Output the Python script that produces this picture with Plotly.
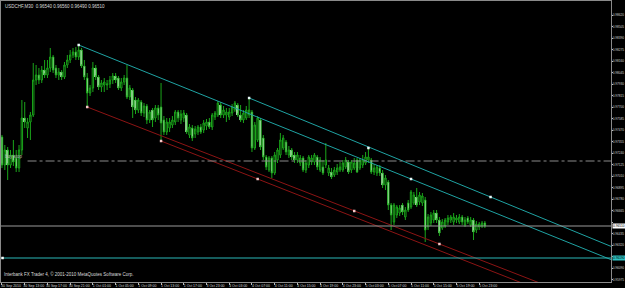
import plotly.graph_objects as go

symbol = "USDCHF,M30"

opens = [0.9740,0.9712,0.9727,0.9712,0.9722,0.9719,0.9709,0.9727,0.9759,0.9749,
0.9755,0.9762,0.9797,0.9802,0.9797,0.9807,0.9802,0.9809,0.9820,0.9809,
0.9802,0.9805,0.9800,0.9812,0.9817,0.9822,0.9825,0.9820,0.9827,0.9811,
0.9799,0.9784,0.9789,0.9809,0.9800,0.9790,0.9792,0.9792,0.9793,0.9797,
0.9801,0.9799,0.9789,0.9795,0.9799,0.9780,0.9787,0.9777,0.9767,0.9775,
0.9764,0.9771,0.9757,0.9767,0.9759,0.9769,0.9770,0.9757,0.9745,0.9749,
0.9752,0.9755,0.9765,0.9757,0.9759,0.9762,0.9742,0.9749,0.9743,0.9745,
0.9750,0.9747,0.9751,0.9755,0.9750,0.9760,0.9762,0.9772,0.9762,0.9762,
0.9760,0.9764,0.9767,0.9772,0.9762,0.9757,0.9759,0.9762,0.9765,0.9729,
0.9737,0.9757,0.9739,0.9720,0.9707,0.9719,0.9704,0.9717,0.9722,0.9729,
0.9735,0.9722,0.9727,0.9722,0.9717,0.9714,0.9719,0.9707,0.9712,0.9715,
0.9715,0.9720,0.9707,0.9710,0.9712,0.9704,0.9705,0.9702,0.9705,0.9707,
0.9707,0.9710,0.9715,0.9707,0.9709,0.9717,0.9709,0.9712,0.9714,0.9717,
0.9717,0.9705,0.9704,0.9709,0.9704,0.9692,0.9695,0.9672,0.9655,0.9662,
0.9664,0.9672,0.9660,0.9674,0.9670,0.9674,0.9680,0.9675,0.9674,0.9677,
0.9650,0.9654,0.9657,0.9664,0.9657,0.9649,0.9651,0.9655,0.9657,0.9655,
0.9657,0.9655,0.9660,0.9652,0.9659,0.9652,0.9657,0.9647,0.9650,0.9651,
0.9654]

highs = [0.9742,0.9732,0.9730,0.9727,0.9737,0.9727,0.9732,0.9777,0.9775,0.9759,
0.9765,0.9814,0.9812,0.9809,0.9811,0.9817,0.9817,0.9829,0.9822,0.9812,
0.9809,0.9807,0.9815,0.9822,0.9827,0.9829,0.9830,0.9832,0.9829,0.9817,
0.9804,0.9792,0.9815,0.9812,0.9802,0.9797,0.9799,0.9797,0.9801,0.9804,
0.9804,0.9801,0.9799,0.9802,0.9812,0.9792,0.9789,0.9780,0.9779,0.9777,
0.9774,0.9773,0.9767,0.9769,0.9772,0.9772,0.9794,0.9761,0.9759,0.9759,
0.9761,0.9767,0.9767,0.9767,0.9767,0.9764,0.9753,0.9752,0.9751,0.9752,
0.9753,0.9757,0.9758,0.9759,0.9764,0.9766,0.9776,0.9775,0.9771,0.9769,
0.9769,0.9773,0.9776,0.9774,0.9772,0.9767,0.9771,0.9779,0.9767,0.9755,
0.9761,0.9759,0.9742,0.9722,0.9721,0.9721,0.9725,0.9729,0.9744,0.9742,
0.9737,0.9731,0.9729,0.9725,0.9725,0.9722,0.9721,0.9717,0.9722,0.9722,
0.9724,0.9722,0.9720,0.9717,0.9734,0.9712,0.9709,0.9710,0.9713,0.9715,
0.9717,0.9720,0.9717,0.9717,0.9719,0.9719,0.9719,0.9722,0.9725,0.9729,
0.9719,0.9713,0.9712,0.9712,0.9707,0.9702,0.9697,0.9674,0.9674,0.9672,
0.9672,0.9674,0.9670,0.9677,0.9687,0.9685,0.9689,0.9685,0.9684,0.9680,
0.9663,0.9665,0.9667,0.9667,0.9660,0.9658,0.9659,0.9662,0.9662,0.9664,
0.9662,0.9663,0.9662,0.9660,0.9661,0.9660,0.9659,0.9656,0.9655,0.9656,
0.9656]

lows = [0.9709,0.9707,0.9697,0.9709,0.9711,0.9705,0.9705,0.9722,0.9749,0.9739,
0.9737,0.9760,0.9792,0.9793,0.9794,0.9799,0.9799,0.9805,0.9804,0.9799,
0.9797,0.9797,0.9798,0.9809,0.9814,0.9819,0.9817,0.9817,0.9809,0.9797,
0.9770,0.9781,0.9785,0.9797,0.9787,0.9785,0.9785,0.9787,0.9789,0.9793,
0.9794,0.9787,0.9786,0.9792,0.9778,0.9777,0.9759,0.9763,0.9764,0.9761,
0.9760,0.9753,0.9754,0.9750,0.9755,0.9757,0.9737,0.9742,0.9742,0.9745,
0.9749,0.9752,0.9755,0.9753,0.9755,0.9743,0.9739,0.9736,0.9739,0.9742,
0.9743,0.9744,0.9747,0.9748,0.9747,0.9757,0.9760,0.9759,0.9759,0.9755,
0.9757,0.9761,0.9765,0.9760,0.9755,0.9754,0.9757,0.9759,0.9725,0.9727,
0.9735,0.9727,0.9717,0.9707,0.9705,0.9699,0.9702,0.9714,0.9719,0.9727,
0.9722,0.9719,0.9717,0.9714,0.9714,0.9711,0.9705,0.9704,0.9709,0.9712,
0.9712,0.9707,0.9705,0.9702,0.9709,0.9701,0.9698,0.9700,0.9702,0.9705,
0.9705,0.9708,0.9703,0.9704,0.9707,0.9704,0.9707,0.9709,0.9712,0.9714,
0.9703,0.9702,0.9701,0.9701,0.9689,0.9687,0.9667,0.9647,0.9652,0.9659,
0.9661,0.9662,0.9657,0.9665,0.9668,0.9672,0.9670,0.9672,0.9671,0.9635,
0.9647,0.9651,0.9654,0.9654,0.9641,0.9647,0.9649,0.9652,0.9654,0.9652,
0.9654,0.9653,0.9652,0.9650,0.9653,0.9650,0.9637,0.9644,0.9647,0.9649,
0.9649]

closes = [0.9712,0.9727,0.9712,0.9722,0.9715,0.9709,0.9727,0.9759,0.9755,0.9755,
0.9762,0.9797,0.9802,0.9797,0.9807,0.9802,0.9809,0.9820,0.9807,0.9802,
0.9805,0.9800,0.9812,0.9817,0.9822,0.9825,0.9820,0.9827,0.9811,0.9800,
0.9784,0.9789,0.9809,0.9800,0.9790,0.9794,0.9795,0.9793,0.9797,0.9801,
0.9797,0.9789,0.9795,0.9799,0.9780,0.9789,0.9770,0.9767,0.9777,0.9764,
0.9771,0.9757,0.9765,0.9757,0.9769,0.9762,0.9754,0.9745,0.9755,0.9755,
0.9757,0.9765,0.9759,0.9763,0.9764,0.9745,0.9750,0.9739,0.9748,0.9750,
0.9745,0.9754,0.9755,0.9750,0.9762,0.9764,0.9774,0.9762,0.9767,0.9765,
0.9765,0.9770,0.9774,0.9762,0.9757,0.9764,0.9767,0.9767,0.9729,0.9752,
0.9759,0.9730,0.9720,0.9710,0.9719,0.9704,0.9722,0.9727,0.9737,0.9739,
0.9725,0.9727,0.9720,0.9717,0.9722,0.9719,0.9707,0.9714,0.9720,0.9719,
0.9722,0.9710,0.9717,0.9704,0.9717,0.9709,0.9700,0.9707,0.9709,0.9710,
0.9714,0.9717,0.9705,0.9715,0.9714,0.9705,0.9717,0.9717,0.9720,0.9720,
0.9705,0.9709,0.9710,0.9704,0.9692,0.9699,0.9672,0.9662,0.9672,0.9670,
0.9669,0.9665,0.9667,0.9667,0.9685,0.9682,0.9672,0.9682,0.9681,0.9647,
0.9660,0.9662,0.9664,0.9657,0.9644,0.9655,0.9657,0.9659,0.9660,0.9660,
0.9659,0.9660,0.9655,0.9657,0.9655,0.9657,0.9645,0.9653,0.9653,0.9654,
0.9651]

time_labels = ["30 Sep 2010", "30 Sep 13:00", "30 Sep 17:00", "30 Sep 21:00",
               "1 Oct 01:00", "1 Oct 05:00", "1 Oct 09:00", "1 Oct 13:00",
               "1 Oct 17:00", "3 Oct 23:00", "4 Oct 03:00", "4 Oct 07:00",
               "4 Oct 11:00", "4 Oct 15:00", "4 Oct 19:00", "4 Oct 23:00",
               "5 Oct 03:00", "5 Oct 07:00", "5 Oct 11:00", "5 Oct 15:00",
               "5 Oct 19:00", "5 Oct 23:00"]
bars_per_label = 8

price_ticks = [0.98620, 0.98505, 0.98390, 0.98275, 0.98160, 0.98045, 0.97930,
               0.97815, 0.97700, 0.97585, 0.97470, 0.97355, 0.97240, 0.97125,
               0.97010, 0.96895, 0.96780, 0.96665, 0.96550, 0.96435, 0.96320,
               0.96205, 0.96090, 0.95975]

# trend lines: (bar, price) anchors
cyan_lines = [((27, 0.9832), (144, 0.9698)),
              ((87, 0.9779), (172, 0.9680))]
red_lines = [((30, 0.9770), (154, 0.9633)),
             ((56, 0.9736), (90, 0.9698))]
cyan_marks_bar = [27, 87, 129, 144, 172]
cyan_marks_price = [0.9832, 0.9779, 0.9729, 0.9698, 0.9680]
red_marks_bar = [30, 56, 90, 124, 154]
red_marks_price = [0.9770, 0.9736, 0.9698, 0.9666, 0.9633]

order_level = 0.9716
order_text = "buy stop"
cyan_level = 0.9619
copyright_text = "Interbank FX Trader 4, \u00a9 2001-2010 MetaQuotes Software Corp."

x_range = [-0.35, 214.4]
y_range = [0.9595, 0.9876]

GREEN = "#1aa51a"
CYAN = "#1fa3a3"
RED = "#8c1414"
FONT = "Liberation Sans"

bars = list(range(len(opens)))
fig = go.Figure()

fig.add_trace(go.Candlestick(
    x=bars, open=opens, high=highs, low=lows, close=closes,
    increasing=dict(line=dict(color=GREEN, width=1), fillcolor="black"),
    decreasing=dict(line=dict(color=GREEN, width=1), fillcolor="white"),
    whiskerwidth=0, hoverinfo="skip"))

# white bodies for bearish candles
dn = [i for i in bars if closes[i] < opens[i]]
fig.add_trace(go.Bar(
    x=dn, y=[opens[i] - closes[i] for i in dn], base=[closes[i] for i in dn],
    width=0.55, marker=dict(color="white", line=dict(width=0)), hoverinfo="skip"))

def ray(a, b):
    (b0, p0), (b1, p1) = a, b
    s = (p1 - p0) / (b1 - b0)
    return [b0, x_range[1]], [p0, p0 + s * (x_range[1] - b0)]

for a, b in cyan_lines:
    xs, ys = ray(a, b)
    fig.add_trace(go.Scatter(x=xs, y=ys, mode="lines", line=dict(color=CYAN, width=1), hoverinfo="skip"))
for a, b in red_lines:
    xs, ys = ray(a, b)
    fig.add_trace(go.Scatter(x=xs, y=ys, mode="lines", line=dict(color=RED, width=1), hoverinfo="skip"))

# horizontal levels
fig.add_trace(go.Scatter(x=[9, x_range[1]], y=[order_level, order_level], mode="lines",
                         line=dict(color="#8a8a8a", width=1, dash="dashdot"), hoverinfo="skip"))
fig.add_trace(go.Scatter(x=[x_range[0], x_range[1]], y=[closes[-1], closes[-1]], mode="lines",
                         line=dict(color="#9a9a9a", width=1), hoverinfo="skip"))
fig.add_trace(go.Scatter(x=[x_range[0], x_range[1]], y=[cyan_level, cyan_level], mode="lines",
                         line=dict(color="#2ab8b8", width=1), hoverinfo="skip"))

fig.add_trace(go.Scatter(x=cyan_marks_bar, y=cyan_marks_price, mode="markers",
                         marker=dict(symbol="square", size=2.5, color="#e8f8f8"), hoverinfo="skip"))
fig.add_trace(go.Scatter(x=red_marks_bar, y=red_marks_price, mode="markers",
                         marker=dict(symbol="square", size=2.5, color="#f4c8c8"), hoverinfo="skip"))
fig.add_trace(go.Scatter(x=[0.2], y=[cyan_level], mode="markers",
                         marker=dict(symbol="square", size=2.5, color="white"), hoverinfo="skip"))

tickvals_x = [k * bars_per_label for k in range(len(time_labels))]

# tick labels hidden where the price boxes sit on the scale
box_levels = [closes[-1], cyan_level]
ticktext_y = ["" if min(abs(v - b) for b in box_levels) < 0.0006 else f"{v:.5f}" for v in price_ticks]

fig.update_layout(
    width=625, height=288,
    margin=dict(l=1, r=14, t=1, b=6, autoexpand=False),
    paper_bgcolor="black", plot_bgcolor="black",
    showlegend=False, bargap=0,
    xaxis=dict(range=x_range, showgrid=False, zeroline=False, automargin=False,
               showline=True, mirror=True, linecolor="#8a8a8a", linewidth=1,
               tickvals=tickvals_x, ticktext=time_labels, ticks="outside",
               ticklen=2, tickcolor="#bbbbbb", ticklabelshift=9, tickangle=0,
               ticklabelstandoff=-2,
               tickfont=dict(size=3.5, color="#d5d5d5", family=FONT),
               rangeslider=dict(visible=False), fixedrange=True),
    yaxis=dict(range=y_range, side="right", showgrid=False, zeroline=False, automargin=False,
               showline=True, mirror=True, linecolor="#8a8a8a", linewidth=1,
               tickvals=price_ticks, ticktext=ticktext_y,
               ticks="outside", ticklen=1, tickcolor="#bbbbbb", ticklabelstandoff=-1,
               tickfont=dict(size=3.2, color="#cfcfcf", family=FONT), fixedrange=True),
    annotations=[
        dict(xref="paper", yref="paper", x=0.004, y=0.995, xanchor="left", yanchor="top",
             showarrow=False,
             text=f"{symbol}  {opens[-1]:.5f} {highs[-1]:.5f} {lows[-1]:.5f} {closes[-1]:.5f}",
             font=dict(size=4.5, color="#dddddd", family=FONT)),
        dict(xref="paper", yref="paper", x=0.002, y=0.012, xanchor="left", yanchor="bottom",
             showarrow=False, text=copyright_text,
             font=dict(size=4.5, color="#dddddd", family=FONT)),
        dict(xref="paper", yref="y", x=0.004, y=order_level, xanchor="left", yanchor="bottom",
             showarrow=False, text=order_text, font=dict(size=4.5, color="#bbbbbb", family=FONT)),
        dict(xref="paper", yref="y", x=1.002, y=closes[-1], xanchor="left", yanchor="middle",
             showarrow=False, text=f"{closes[-1]:.5f}", bgcolor="white", borderpad=0,
             font=dict(size=3.2, color="black", family=FONT)),
        dict(xref="paper", yref="y", x=1.002, y=cyan_level, xanchor="left", yanchor="middle",
             showarrow=False, text=f"{cyan_level:.5f}", bgcolor="#2ec4c4", borderpad=0,
             font=dict(size=3.2, color="black", family=FONT)),
    ],
)

fig.write_html("out.html")
